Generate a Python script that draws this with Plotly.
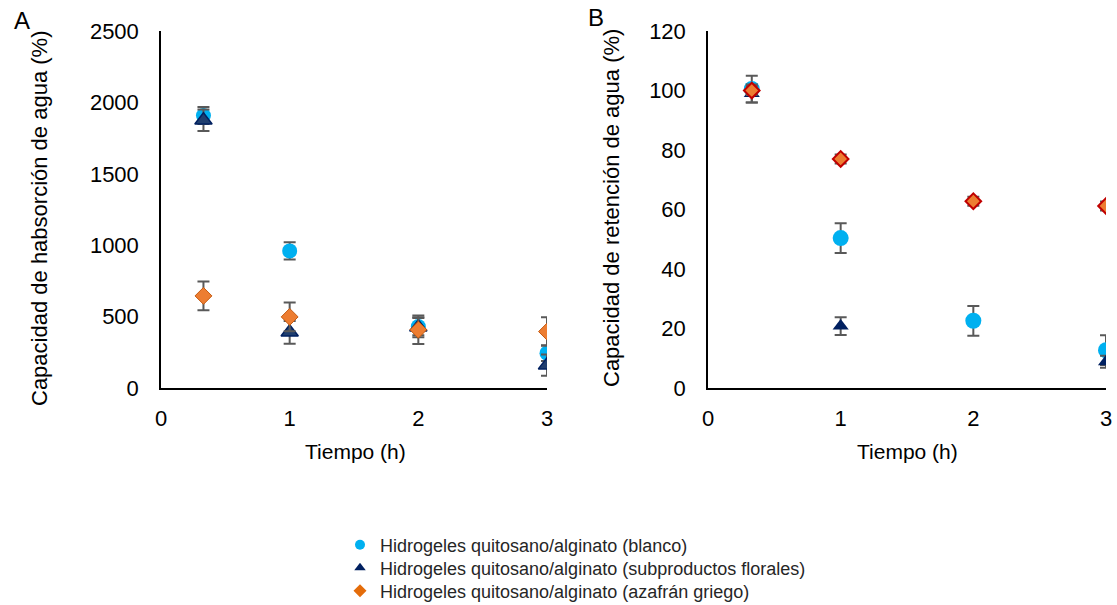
import plotly.graph_objects as go

tiempo = [0.33, 1, 2, 3]

# Panel A: Capacidad de absorción de agua (%)
a_blanco = [1908, 960, 430, 244]
a_blanco_err = [60, 60, 60, 55]
a_flor = [1875, 390, 425, 160]
a_flor_err = [75, 80, 70, 75]
a_azafran = [645, 498, 408, 395]
a_azafran_err = [100, 100, 100, 100]

# Panel B: Capacidad de retención de agua (%)
b_blanco = [100.5, 50.4, 22.6, 12.7]
b_blanco_err = [4.5, 5, 5, 5]
b_flor = [99, 20.8, None, 8.8]
b_flor_err = [3, 3, 0, 2]
b_azafran = [100, 77, 62.8, 61.2]
b_azafran_err = [1.5, 1.5, 1.5, 1.5]

names = [
    "Hidrogeles quitosano/alginato (blanco)",
    "Hidrogeles quitosano/alginato (subproductos florales)",
    "Hidrogeles quitosano/alginato (azafrán griego)",
]

BLUE = "#00B0F0"
NAVY = "#002060"
ORANGE = "#ED7D31"
ERR = "#595959"
FONT = "Liberation Sans, Arial, sans-serif"
W, H = 1117, 605

fig = go.Figure()

def add(x, y, err, name, marker, xa, ya):
    fig.add_trace(go.Scatter(
        x=x, y=y, mode="markers", name=name, showlegend=False,
        marker=marker,
        error_y=dict(type="data", array=err, visible=True, color=ERR, thickness=2, width=6),
        xaxis=xa, yaxis=ya,
    ))

add(tiempo, a_blanco, a_blanco_err, names[0],
    dict(symbol="circle", size=15, color=BLUE), "x", "y")
add(tiempo, a_flor, a_flor_err, names[1],
    dict(symbol="triangle-up", size=15, color="#1F3E6E", line=dict(color=NAVY, width=1.5)), "x", "y")
add(tiempo, a_azafran, a_azafran_err, names[2],
    dict(symbol="diamond", size=13, color=ORANGE, line=dict(color="#C55A11", width=1)), "x", "y")

add(tiempo, b_blanco, b_blanco_err, names[0],
    dict(symbol="circle", size=16, color=BLUE), "x2", "y2")
add(tiempo, b_flor, b_flor_err, names[1],
    dict(symbol="triangle-up", size=14, color=NAVY), "x2", "y2")
add(tiempo, b_azafran, b_azafran_err, names[2],
    dict(symbol="diamond", size=12, color=ORANGE, line=dict(color="#C00000", width=2)), "x2", "y2")

# legend entries with small markers, one legend per row
legend_markers = [
    dict(symbol="circle", size=10, color=BLUE),
    dict(symbol="triangle-up", size=10, color=NAVY),
    dict(symbol="diamond", size=10, color="#E46C0A"),
]
legend_ids = ["legend", "legend2", "legend3"]
for nm, mk, lg in zip(names, legend_markers, legend_ids):
    fig.add_trace(go.Scatter(x=[None], y=[None], mode="markers", name=nm, marker=mk,
                             showlegend=True, legend=lg, xaxis="x", yaxis="y"))

ydom = [1 - 388 / H, 1 - 31 / H]
axis_common = dict(showgrid=False, zeroline=False, showline=True, linecolor="black", linewidth=1.5,
                   ticks="", automargin=False,
                   tickfont=dict(size=22, color="black", family=FONT))

def legend_at(ycenter):
    return dict(x=340 / W, y=1 - ycenter / H, xanchor="left", yanchor="middle",
                font=dict(size=18, family=FONT, color="#262626"),
                itemwidth=30, bgcolor="rgba(0,0,0,0)", borderwidth=0)

fig.update_layout(
    width=W, height=H,
    margin=dict(l=0, r=0, t=0, b=0, autoexpand=False),
    paper_bgcolor="white", plot_bgcolor="white",
    font=dict(family=FONT, color="black"),
    xaxis=dict(domain=[161 / W, 547 / W], range=[0, 3], dtick=1, anchor="y",
               ticklabelstandoff=10, **axis_common),
    yaxis=dict(domain=ydom, range=[0, 2500], dtick=500, anchor="x",
               ticklabelstandoff=16, **axis_common),
    xaxis2=dict(domain=[708 / W, 1106 / W], range=[0, 3], dtick=1, anchor="y2",
                ticklabelstandoff=10, **axis_common),
    yaxis2=dict(domain=ydom, range=[0, 120], dtick=20, anchor="x2",
                ticklabelstandoff=16, **axis_common),
    legend=legend_at(545),
    legend2=legend_at(568),
    legend3=legend_at(591),
    showlegend=True,
)

ann = [
    dict(text="A", x=22 / W, y=1 - 21 / H, size=24, angle=0),
    dict(text="B", x=596 / W, y=1 - 18 / H, size=24, angle=0),
    dict(text="Capacidad de habsorción de agua (%)", x=40 / W, y=1 - 219 / H, size=22, angle=-90),
    dict(text="Capacidad de retención de agua (%)", x=611 / W, y=1 - 208 / H, size=22, angle=-90),
    dict(text="Tiempo (h)", x=355 / W, y=1 - 451 / H, size=21, angle=0),
    dict(text="Tiempo (h)", x=907 / W, y=1 - 451 / H, size=21, angle=0),
]
for a in ann:
    fig.add_annotation(text=a["text"], x=a["x"], y=a["y"], xref="paper", yref="paper",
                       showarrow=False, textangle=a["angle"], xanchor="center", yanchor="middle",
                       font=dict(size=a["size"], family=FONT, color="black"))

fig.write_html("out.html",
               config={"displayModeBar": False},
               post_script="document.body.style.margin='0';document.body.style.overflow='hidden';")
